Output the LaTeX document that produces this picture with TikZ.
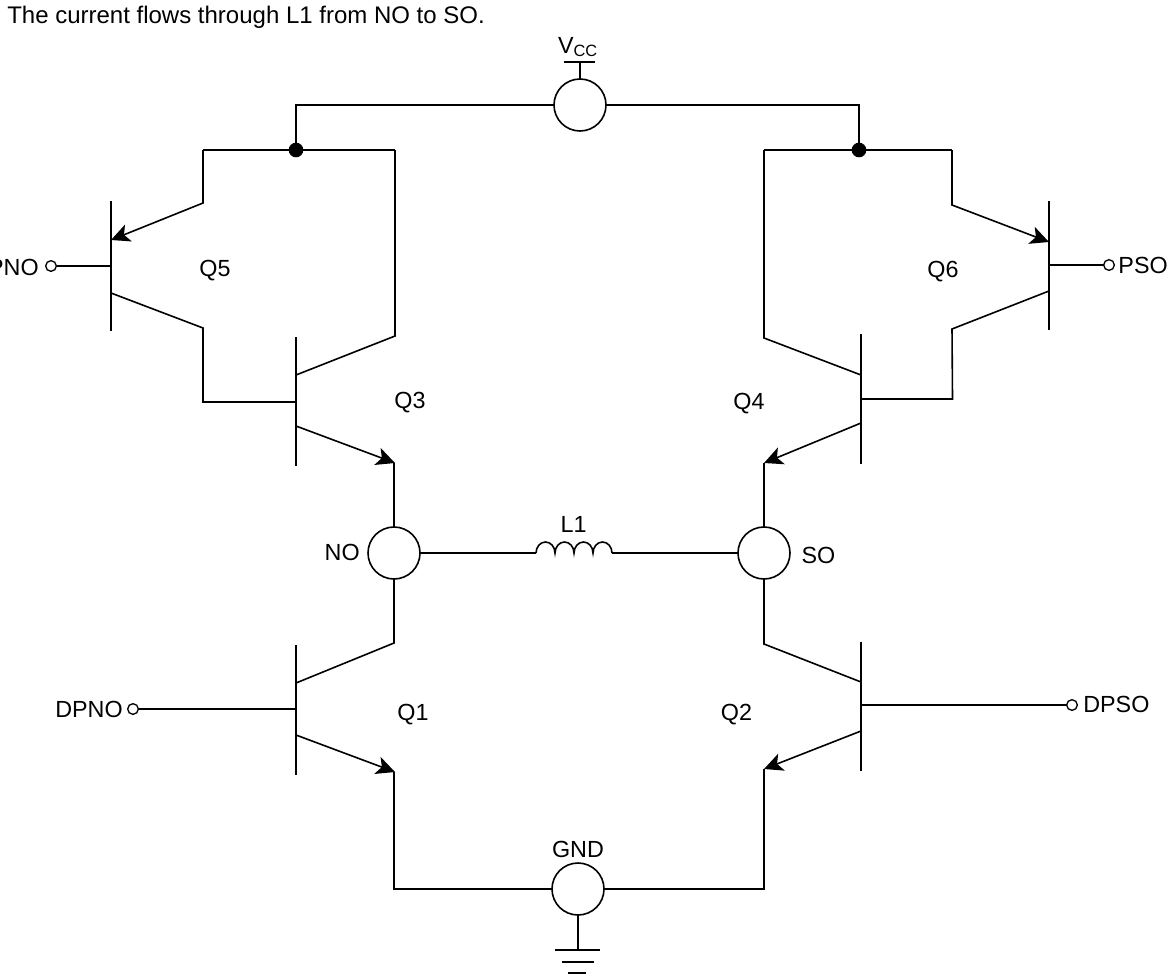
\documentclass[tikz,border=0pt]{standalone}
\usepackage{fontspec}
\setmainfont{Liberation Sans}
\usetikzlibrary{arrows.meta}
\tikzset{
	wire/.style={line width=1.2pt, line join=miter},
	pad/.style={draw, circle, line width=1.2pt, fill=white, minimum size=39pt, inner sep=0pt, outer sep=0pt},
	pin/.style={draw, circle, line width=1pt, fill=white, minimum size=8pt, inner sep=0pt, outer sep=0pt},
	dot/.style={fill, circle, minimum size=11pt, inner sep=0pt, outer sep=0pt},
	lbl/.style={inner sep=0pt, anchor=base, font=\fontsize{17.5}{20}\selectfont},
	emit/.style={wire, -{Stealth[length=14pt, width=13.5pt, inset=3.5pt]}}
}

\begin{document}
\begin{tikzpicture}[x=0.75pt, y=-0.75pt]
			\useasboundingbox (0,0) rectangle (1176,975);
			
			%Nodes
			\node (vcc) at (580,105) [pad]{};
			\node (no) at (394,553) [pad]{};
			\node (so) at (764,553) [pad]{};
			\node (gnd) at (578,889) [pad]{};
			\node (topl) at (296,150) [dot]{};
			\node (topr) at (859,150) [dot]{};
			\node (inq5) at (51,266) [pin]{};
			\node (inq6) at (1109,265) [pin]{};
			\node (inq1) at (133,709) [pin]{};
			\node (inq2) at (1072,705) [pin]{};
			
			%Transistor points
			\coordinate (q5a) at (111,201); \coordinate (q5b) at (111,331);
			\coordinate (q5e) at (111,240); \coordinate (q5m) at (111,266); \coordinate (q5c) at (111,293);
			\coordinate (q3a) at (296,337); \coordinate (q3b) at (296,466);
			\coordinate (q3c) at (296,375); \coordinate (q3m) at (296,402); \coordinate (q3e) at (296,426);
			\coordinate (q6a) at (1049,201); \coordinate (q6b) at (1049,330);
			\coordinate (q6e) at (1049,242); \coordinate (q6m) at (1049,265); \coordinate (q6c) at (1049,291);
			\coordinate (q4a) at (861,334); \coordinate (q4b) at (861,464);
			\coordinate (q4c) at (861,375); \coordinate (q4m) at (861,399); \coordinate (q4e) at (861,423);
			\coordinate (q1a) at (296,645); \coordinate (q1b) at (296,775);
			\coordinate (q1c) at (296,683); \coordinate (q1m) at (296,709); \coordinate (q1e) at (296,735);
			\coordinate (q2a) at (861,642); \coordinate (q2b) at (861,771);
			\coordinate (q2c) at (861,682); \coordinate (q2m) at (861,705); \coordinate (q2e) at (861,731);
			\coordinate (coila) at (536,553); \coordinate (coilb) at (612,553);
			\coordinate (vtop) at (580,62); \coordinate (gbot) at (578,950);
			
			%Links
			\draw[wire] (vcc.west) -| (topl.center);
			\draw[wire] (vcc.east) -| (topr.center);
			\draw[wire] (203,150) -- (395,150);
			\draw[wire] (764,150) -- (952,150);
			\draw[wire] (vcc.north) -- (vtop);
			\draw[wire] (564,62) -- (595,62);
			\draw[wire] (q5a) -- (q5b);
			\draw[wire] (q3a) -- (q3b);
			\draw[wire] (q6a) -- (q6b);
			\draw[wire] (q4a) -- (q4b);
			\draw[wire] (q1a) -- (q1b);
			\draw[wire] (q2a) -- (q2b);
			\draw[emit] (203,150) -- (203,203) -- (q5e);
			\draw[wire] (inq5) -- (q5m);
			\draw[wire] (q5c) -- (203,328) -- (203,402) -- (q3m);
			\draw[wire] (395,150) -- (395,336) -- (q3c);
			\draw[emit] (q3e) -- (395,463);
			\draw[wire] (394,463) -- (no.north);
			\draw[emit] (952,150) -- (952,205) -- (q6e);
			\draw[wire] (q6m) -- (inq6);
			\draw[wire] (q6c) -- (952,329) -- (952.5,399) -- (q4m);
			\draw[wire] (764,150) -- (764,338) -- (q4c);
			\draw[emit] (q4e) -- (764,463);
			\draw[wire] (764,463) -- (so.north);
			\draw[wire] (no.east) -- (coila);
			\draw[wire] (coila) \foreach \i in {1,...,4} {arc[start angle=180, end angle=0, x radius=7.125pt, y radius=8.25pt]};
			\draw[wire] (coilb) -- (so.west);
			\draw[wire] (no.south) -- (394,643) -- (q1c);
			\draw[wire] (inq1) -- (q1m);
			\draw[emit] (q1e) -- (395,772);
			\draw[wire] (394,772) |- (gnd.west);
			\draw[wire] (so.south) -- (764,644) -- (q2c);
			\draw[wire] (q2m) -- (inq2);
			\draw[emit] (q2e) -- (764,769);
			\draw[wire] (764,769) |- (gnd.east);
			\draw[wire] (gnd.south) -- (gbot);
			\draw[wire] (555,950) -- (600,950);
			\draw[wire] (562,962) -- (594,962);
			\draw[wire] (568,973) -- (586,973);
			
			%Variables
			\node (title) at (7,23) [lbl, anchor=base west, font=\fontsize{18}{20}\selectfont]{The current flows through L1 from NO to SO.};
			\node (vcclbl) at (578,53) [lbl]{V\textsubscript{CC}};
			\node (q5lbl) at (215,276) [lbl]{Q5};
			\node (q3lbl) at (410,408) [lbl]{Q3};
			\node (q4lbl) at (749,409) [lbl]{Q4};
			\node (q6lbl) at (943,277) [lbl]{Q6};
			\node (q1lbl) at (413,720) [lbl]{Q1};
			\node (q2lbl) at (736.5,720) [lbl]{Q2};
			\node (l1lbl) at (573.5,532) [lbl]{L1};
			\node (nolbl) at (360,560) [lbl, anchor=base east]{NO};
			\node (solbl) at (818.5,563) [lbl]{SO};
			\node (gndlbl) at (578,857) [lbl]{GND};
			\node (pnolbl) at (39,275) [lbl, anchor=base east]{PNO};
			\node (psolbl) at (1168,273) [lbl, anchor=base east]{PSO};
			\node (dpnolbl) at (123,717) [lbl, anchor=base east]{DPNO};
			\node (dpsolbl) at (1083,712) [lbl, anchor=base west]{DPSO};
			
\end{tikzpicture}
\end{document}
